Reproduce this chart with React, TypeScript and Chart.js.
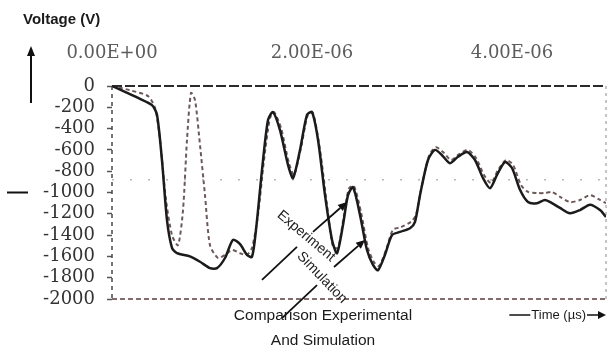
import React, { useEffect, useRef } from "react";
import { Chart, registerables } from "chart.js";

Chart.register(...registerables);

// ---- data (time in µs, voltage in V) ----
const simTime = [0, 0.13, 0.28, 0.4, 0.45, 0.5, 0.55, 0.6, 0.65, 0.78, 0.88, 0.98, 1.05, 1.13, 1.21, 1.28, 1.35, 1.4, 1.44, 1.5, 1.56, 1.61, 1.68, 1.76, 1.81, 1.88, 1.95, 2.0, 2.06, 2.13, 2.2, 2.25, 2.31, 2.36, 2.41, 2.48, 2.55, 2.61, 2.66, 2.73, 2.8, 2.88, 2.98, 3.03, 3.08, 3.16, 3.23, 3.3, 3.38, 3.46, 3.55, 3.63, 3.71, 3.78, 3.85, 3.93, 4.0, 4.08, 4.16, 4.25, 4.33, 4.4, 4.48, 4.58, 4.68, 4.78, 4.88, 4.94];
const simVolt = [0, -55, -120, -180, -270, -700, -1260, -1520, -1570, -1600, -1650, -1710, -1710, -1615, -1445, -1485, -1585, -1605, -1350, -790, -320, -245, -415, -740, -865, -600, -270, -245, -505, -1025, -1445, -1570, -1305, -1025, -950, -1210, -1540, -1680, -1730, -1585, -1400, -1370, -1335, -1275, -1025, -695, -600, -650, -725, -665, -620, -695, -865, -960, -835, -715, -770, -975, -1090, -1100, -1070, -1100, -1145, -1195, -1165, -1115, -1165, -1230];

const expTime = [0, 0.18, 0.36, 0.43, 0.48, 0.54, 0.6, 0.66, 0.71, 0.75, 0.79, 0.83, 0.88, 0.93, 0.98, 1.06, 1.13, 1.2, 1.28, 1.35, 1.4, 1.46, 1.52, 1.58, 1.62, 1.69, 1.77, 1.82, 1.89, 1.96, 2.01, 2.08, 2.15, 2.21, 2.26, 2.32, 2.37, 2.42, 2.49, 2.56, 2.62, 2.67, 2.74, 2.81, 2.89, 2.99, 3.04, 3.09, 3.17, 3.24, 3.31, 3.39, 3.47, 3.56, 3.64, 3.72, 3.79, 3.86, 3.94, 4.01, 4.09, 4.16, 4.25, 4.33, 4.4, 4.48, 4.58, 4.68, 4.78, 4.88, 4.94];
const expVolt = [0, -40, -95, -205, -505, -1070, -1400, -1495, -1165, -505, -65, -130, -555, -1025, -1495, -1615, -1585, -1540, -1570, -1585, -1520, -1210, -695, -300, -245, -395, -725, -835, -580, -265, -255, -600, -1115, -1510, -1520, -1210, -960, -940, -1185, -1520, -1655, -1690, -1540, -1350, -1325, -1275, -1210, -975, -655, -575, -620, -695, -640, -600, -675, -835, -910, -790, -695, -740, -930, -995, -1005, -1005, -995, -1040, -1090, -1070, -1025, -1070, -1100];

const xTickValues = [0, 2, 4];
const xTickLabels = ["0.00E+00", "2.00E-06", "4.00E-06"];
const yTickValues = [0, -200, -400, -600, -800, -1000, -1200, -1400, -1600, -1800, -2000];
const yTickLabels = ["0", "-200", "-400", "-600", "-800", "-1000", "-1200", "-1400", "-1600", "-1800", "-2000"];

const seriesNames = ["Simulation", "Experiment"];
const yAxisTitle = "Voltage (V)";
const xAxisTitle = "Time (µs)";
const captionLines = ["Comparison Experimental", "And Simulation"];

const SANS = '"Liberation Sans", Arial, sans-serif';
const SERIF = '"DejaVu Serif", serif';

function line(ctx: CanvasRenderingContext2D, x1: number, y1: number, x2: number, y2: number, color: string, w: number, dash: number[] = []) {
  ctx.save();
  ctx.strokeStyle = color;
  ctx.lineWidth = w;
  ctx.setLineDash(dash);
  ctx.beginPath();
  ctx.moveTo(x1, y1);
  ctx.lineTo(x2, y2);
  ctx.stroke();
  ctx.restore();
}

function arrow(ctx: CanvasRenderingContext2D, x1: number, y1: number, x2: number, y2: number, color: string, w: number, head: number, hw: number) {
  const ang = Math.atan2(y2 - y1, x2 - x1);
  const bx = x2 - head * Math.cos(ang);
  const by = y2 - head * Math.sin(ang);
  line(ctx, x1, y1, bx, by, color, w);
  ctx.save();
  ctx.fillStyle = color;
  ctx.beginPath();
  ctx.moveTo(x2, y2);
  ctx.lineTo(bx + hw * Math.sin(ang), by - hw * Math.cos(ang));
  ctx.lineTo(bx - hw * Math.sin(ang), by + hw * Math.cos(ang));
  ctx.closePath();
  ctx.fill();
  ctx.restore();
}

function rotText(ctx: CanvasRenderingContext2D, text: string, x: number, y: number, deg: number, font: string, color: string) {
  ctx.save();
  ctx.translate(x, y);
  ctx.rotate((deg * Math.PI) / 180);
  ctx.font = font;
  ctx.fillStyle = color;
  ctx.textAlign = "center";
  ctx.textBaseline = "middle";
  ctx.fillText(text, 0, 0);
  ctx.restore();
}

const framePlugin = {
  id: "frame",
  beforeDatasetsDraw(chart: any) {
    const { ctx, chartArea: a, scales } = chart;
    const y = scales.y;
    const y0 = y.getPixelForValue(yTickValues[0]);
    const yMin = y.getPixelForValue(yTickValues[yTickValues.length - 1]);
    const yMid = y.getPixelForValue(-880);
    line(ctx, a.left, yMid, a.right, yMid, "#b8b8b8", 1.5, [2, 16]);
    line(ctx, a.left, y0, a.right, y0, "#2a2a2a", 2, [10, 3]);
    line(ctx, a.left, yMin, a.right, yMin, "#5e3c3c", 1.5, [5, 3]);
    line(ctx, a.left, a.top, a.left, a.bottom, "#4a4a4a", 1.5, [4, 4]);
    line(ctx, a.right, a.top, a.right, a.bottom, "#8a8a8a", 1, [3, 4]);
  },
};

const annotPlugin = {
  id: "annot",
  afterDraw(chart: any) {
    const { ctx, scales } = chart;
    const x = scales.x;
    const y = scales.y;
    const P = (t: number, v: number): [number, number] => [x.getPixelForValue(t), y.getPixelForValue(v)];
    ctx.save();
    // y axis title and arrow
    ctx.font = `bold 15px ${SANS}`;
    ctx.fillStyle = "#1a1a1a";
    ctx.textAlign = "left";
    ctx.textBaseline = "middle";
    ctx.fillText(yAxisTitle, 23, 20);
    arrow(ctx, 31, 103, 31, 46, "#111", 2, 10, 4);
    const yk = y.getPixelForValue(-1000);
    line(ctx, 7, yk, 28, yk, "#111", 2);

    // series labels
    const [ex, ey] = P(1.94, -1410);
    rotText(ctx, seriesNames[1], ex, ey, 40, `14px ${SANS}`, "#222");
    const [sx, sy] = P(2.1, -1800);
    rotText(ctx, seriesNames[0], sx, sy, 46, `14px ${SANS}`, "#222");

    // pointer arrows
    const a1 = P(2.01, -1370), a1t = P(2.35, -1090);
    arrow(ctx, a1[0], a1[1], a1t[0], a1t[1], "#111", 1.8, 9, 4);
    const a2 = P(2.22, -1700), a2t = P(2.53, -1445);
    arrow(ctx, a2[0], a2[1], a2t[0], a2t[1], "#111", 1.8, 9, 4);
    const l1 = P(1.5, -1820), l1e = P(1.85, -1510);
    line(ctx, l1[0], l1[1], l1e[0], l1e[1], "#111", 1.8);
    const l2 = P(1.7, -2180), l2e = P(2.05, -1870);
    line(ctx, l2[0], l2[1], l2e[0], l2e[1], "#111", 1.8);

    // caption
    ctx.font = `15.5px ${SANS}`;
    ctx.fillStyle = "#1a1a1a";
    ctx.textAlign = "center";
    ctx.fillText(captionLines[0], 323, 316);
    ctx.fillText(captionLines[1], 323, 341);

    // time label with arrow
    ctx.font = `13px ${SANS}`;
    ctx.textAlign = "right";
    const tipX = 606;
    const ty = 315;
    const textRight = tipX - 20;
    arrow(ctx, textRight + 1, ty, tipX, ty, "#111", 1.5, 8, 4);
    ctx.fillText(xAxisTitle, textRight, ty);
    const tw = ctx.measureText(xAxisTitle).width;
    line(ctx, textRight - tw - 22, ty, textRight - tw - 1, ty, "#111", 1.5);
    ctx.restore();
  },
};

export default function App() {
  const ref = useRef<HTMLCanvasElement | null>(null);
  useEffect(() => {
    if (!ref.current) return;
    const chart = new Chart(ref.current, {
      type: "line",
      data: {
        datasets: [
          {
            label: seriesNames[0],
            data: simTime.map((t, i) => ({ x: t, y: simVolt[i] })),
            borderColor: "#1b1b1b",
            borderWidth: 2.5,
            pointRadius: 0,
            tension: 0.25,
            fill: false,
          },
          {
            label: seriesNames[1],
            data: expTime.map((t, i) => ({ x: t, y: expVolt[i] })),
            borderColor: "#6d5858",
            borderWidth: 2,
            borderDash: [4, 3],
            pointRadius: 0,
            tension: 0.25,
            fill: false,
          },
        ],
      },
      options: {
        responsive: false,
        animation: false,
        layout: { padding: { left: 0, right: 2, top: 0, bottom: 63 } },
        plugins: { legend: { display: false }, tooltip: { enabled: false } },
        scales: {
          x: {
            type: "linear",
            position: "top",
            min: 0,
            max: 4.94,
            afterFit: (s: any) => {
              s.height = 86;
            },
            grid: { display: false, drawTicks: false },
            border: { display: false },
            ticks: {
              stepSize: 2,
              includeBounds: false,
              autoSkip: false,
              maxRotation: 0,
              padding: 22,
              font: { family: SERIF, size: 18 },
              color: "#5c5c5c",
              callback: (v: any) => {
                const i = xTickValues.indexOf(Number(v));
                return i >= 0 ? xTickLabels[i] : "";
              },
            },
          },
          y: {
            min: -2000,
            max: 0,
            afterFit: (s: any) => {
              s.width = 112;
            },
            afterBuildTicks: (s: any) => {
              s.ticks = yTickValues.map((v) => ({ value: v }));
            },
            grid: { drawOnChartArea: false, drawTicks: true, tickLength: 5, tickColor: "#555", tickWidth: 1.5 },
            border: { display: false },
            ticks: {
              autoSkip: false,
              padding: 12,
              font: { family: SERIF, size: 18 },
              color: "#333",
              callback: (v: any) => {
                const i = yTickValues.indexOf(Number(v));
                return i >= 0 ? yTickLabels[i] : "";
              },
            },
          },
        },
      },
      plugins: [framePlugin, annotPlugin],
    });
    return () => chart.destroy();
  }, []);
  return (
    <div style={{ position: "absolute", left: 0, top: 0, width: 608, height: 362, background: "#fff" }}>
      <canvas ref={ref} width={608} height={362} style={{ display: "block" }} />
    </div>
  );
}
